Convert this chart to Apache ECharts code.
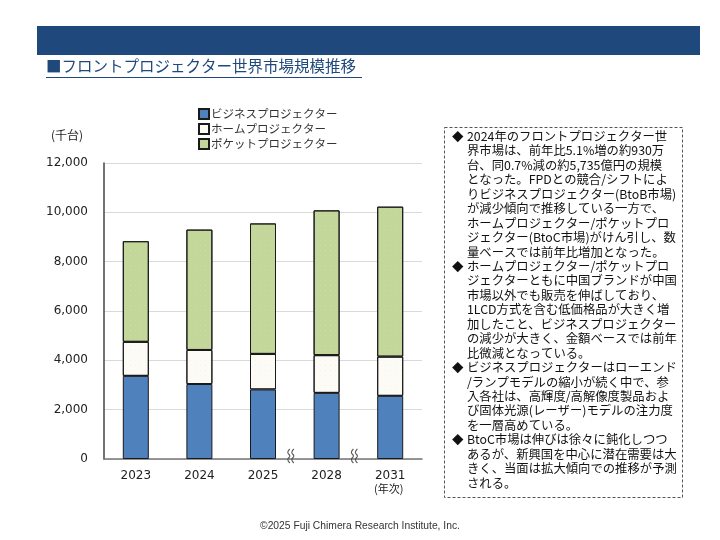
<!DOCTYPE html>
<html>
<head>
<meta charset="utf-8">
<script src="https://cdn.jsdelivr.net/npm/echarts@6/dist/echarts.min.js"></script>
<style>
  html, body { margin: 0; padding: 0; background: #fff; }
  #main { width: 720px; height: 540px; }
</style>
</head>
<body>
<div id="main"></div>
<script>
// 年次
const years = ['2023', '2024', '2025', '2028', '2031']
// 千台
const business = [3370, 3040, 2820, 2680, 2560]
const home = [1380, 1380, 1440, 1530, 1590]
const pocket = [4080, 4880, 5290, 5870, 6080]
const seriesNames = ['ビジネスプロジェクター', 'ホームプロジェクター', 'ポケットプロジェクター']

const bullets = [
  '2024年のフロントプロジェクター世\n界市場は、前年比5.1%増の約930万\n台、同0.7%減の約5,735億円の規模\nとなった。FPDとの競合/シフトによ\nりビジネスプロジェクター(BtoB市場)\nが減少傾向で推移している一方で、\nホームプロジェクター/ポケットプロ\nジェクター(BtoC市場)がけん引し、数\n量ベースでは前年比増加となった。',
  'ホームプロジェクター/ポケットプロ\nジェクターともに中国ブランドが中国\n市場以外でも販売を伸ばしており、\n1LCD方式を含む低価格品が大きく増\n加したこと、ビジネスプロジェクター\nの減少が大きく、金額ベースでは前年\n比微減となっている。',
  'ビジネスプロジェクターはローエンド\n/ランプモデルの縮小が続く中で、参\n入各社は、高輝度/高解像度製品およ\nび固体光源(レーザー)モデルの注力度\nを一層高めている。',
  'BtoC市場は伸びは徐々に鈍化しつつ\nあるが、新興国を中心に潜在需要は大\nきく、当面は拡大傾向での推移が予測\nされる。'
]

const font = '"Noto Sans CJK JP", "Noto Sans", sans-serif'
const lineH = 14.45

let myChart = echarts.init(document.getElementById('main'))

// 右側の説明文
let textEls = []
let lineNo = 0
bullets.forEach(function (b) {
  const y0 = 129 + lineNo * lineH
  textEls.push({
    type: 'text', left: 452, top: y0,
    style: { text: '◆', font: '11.5px ' + font, fill: '#111', lineHeight: lineH }
  })
  textEls.push({
    type: 'text', left: 467, top: y0,
    style: { text: b, font: '12.35px ' + font, fill: '#111', lineHeight: lineH }
  })
  lineNo += b.split('\n').length
})

const bar = (name, data, color, decalColor) => {
  const s = {
    name: name,
    type: 'bar',
    stack: 'total',
    barWidth: 26,
    data: data,
    itemStyle: { color: color, borderColor: '#1a1a1a', borderWidth: 1 },
    emphasis: { disabled: true }
  }
  if (decalColor) {
    s.itemStyle.decal = {
      symbol: 'circle', symbolSize: 0.5, color: decalColor,
      dashArrayX: [[1, 4]], dashArrayY: [1, 4], rotation: 0
    }
  }
  return s
}

// 省略記号（軸の途中）の波線
function wave(x, y) {
  return {
    type: 'polyline', silent: true, z: 100,
    shape: { points: [[x, y - 7], [x - 2, y - 3.5], [x, y], [x - 2, y + 3.5], [x, y + 7]], smooth: 0.5 },
    style: { fill: 'none', stroke: '#555', lineWidth: 1.1 }
  }
}

myChart.setOption({
  animation: false,
  grid: { left: 104, right: 298, top: 163, bottom: 81 },
  legend: {
    orient: 'vertical',
    left: 193, top: 103,
    itemWidth: 10, itemHeight: 10, itemGap: 3,
    icon: 'rect',
    data: seriesNames,
    textStyle: { fontSize: 11.5, lineHeight: 12, color: '#333', fontFamily: font, padding: [0, 0, 0, -3] },
    selectedMode: false
  },
  xAxis: {
    type: 'category',
    data: years,
    axisLine: { lineStyle: { color: '#777', width: 1.5 } },
    axisTick: { show: false },
    axisLabel: { fontSize: 12, color: '#222', margin: 11, fontFamily: 'Verdana, "DejaVu Sans", sans-serif' }
  },
  yAxis: {
    type: 'value',
    min: 0, max: 12000, interval: 2000,
    axisLine: { show: true, lineStyle: { color: '#444', width: 1.5 } },
    axisTick: { show: false },
    splitLine: { lineStyle: { color: '#dadada' } },
    axisLabel: {
      fontSize: 12, color: '#222', margin: 16,
      fontFamily: 'Verdana, "DejaVu Sans", sans-serif',
      formatter: v => v.toLocaleString('en-US')
    }
  },
  series: [
    bar(seriesNames[0], business, '#4f81bd', null),
    bar(seriesNames[1], home, '#fdfbf6', 'rgba(200,180,150,0.6)'),
    bar(seriesNames[2], pocket, '#c4d79b', 'rgba(255,255,255,0.75)')
  ],
  graphic: [
    { type: 'rect', shape: { x: 37, y: 26, width: 663, height: 29 }, style: { fill: '#1f497d' } },
    { type: 'text', left: 46, top: 58, style: { text: '■フロントプロジェクター世界市場規模推移', font: '15.5px ' + font, fill: '#1f497d' } },
    { type: 'line', shape: { x1: 46, y1: 77.5, x2: 362, y2: 77.5 }, style: { stroke: '#1f497d', lineWidth: 1 } },
    { type: 'text', left: 51, top: 129, style: { text: '(千台)', font: '12px ' + font, fill: '#222' } },
    { type: 'text', left: 374, top: 483, style: { text: '(年次)', font: '11px ' + font, fill: '#222' } },
    { type: 'rect', shape: { x: 444.5, y: 127.5, width: 238, height: 370 }, style: { fill: 'none', stroke: '#555', lineWidth: 1, lineDash: [3, 2] } },
    ...textEls,
    { type: 'text', left: 'center', top: 521, style: { text: '©2025 Fuji Chimera Research Institute, Inc.', font: '10.3px "Liberation Sans", Arial, sans-serif', fill: '#333' } }
  ]
})

const p2 = myChart.convertToPixel({ xAxisIndex: 0 }, years[2])
const p3 = myChart.convertToPixel({ xAxisIndex: 0 }, years[3])
const p4 = myChart.convertToPixel({ xAxisIndex: 0 }, years[4])
const base = myChart.convertToPixel({ yAxisIndex: 0 }, 0)
const m1 = (p2 + p3) / 2 - 3
const m2 = (p3 + p4) / 2 - 3
myChart.setOption({
  graphic: [
    Object.assign({ id: 'brk1a' }, wave(m1 - 2, base - 3)),
    Object.assign({ id: 'brk1b' }, wave(m1 + 2, base - 3)),
    Object.assign({ id: 'brk2a' }, wave(m2 - 2, base - 3)),
    Object.assign({ id: 'brk2b' }, wave(m2 + 2, base - 3))
  ]
})
</script>
</body>
</html>
